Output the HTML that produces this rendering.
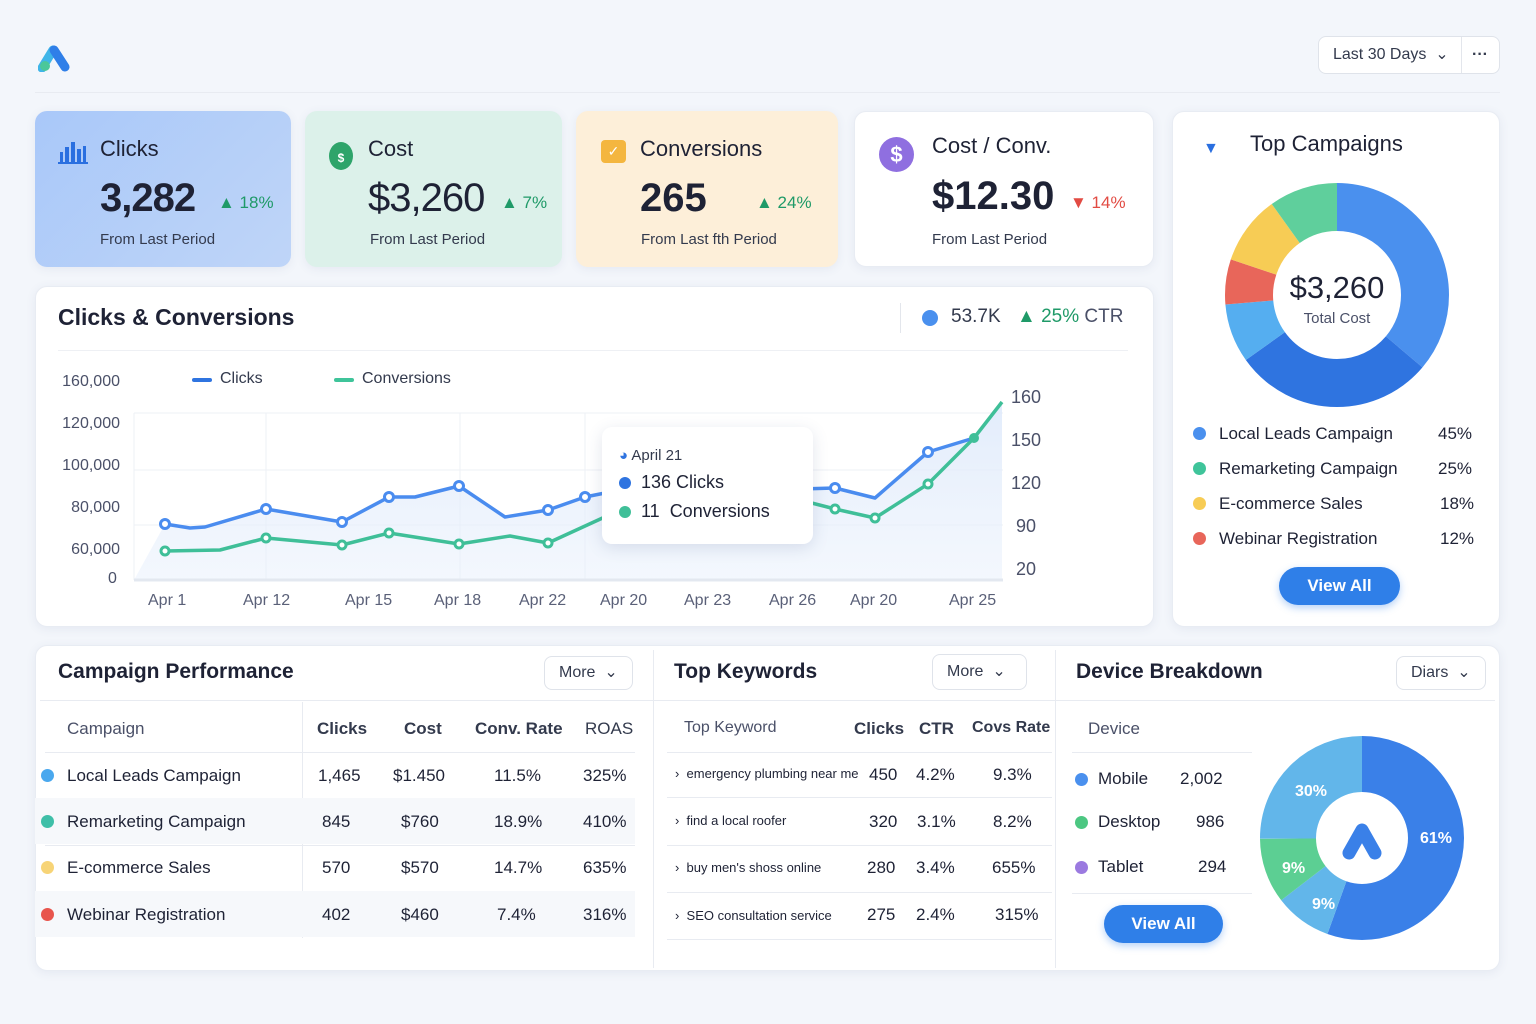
<!DOCTYPE html>
<html><head><meta charset="utf-8"><style>
*{margin:0;padding:0;box-sizing:border-box}
body{width:1536px;height:1024px;background:#f3f6fb;font-family:"Liberation Sans",sans-serif;color:#1e2235;position:relative;overflow:hidden}
.a{position:absolute;white-space:nowrap}
.card{position:absolute;border-radius:12px;box-shadow:0 2px 10px rgba(60,80,130,0.08)}
.w{background:#fff;border:1px solid #e8ecf3}
.up{color:#1f9a68}
.btn{position:absolute;border:1px solid #dfe3ea;border-radius:8px;background:#fff;font-size:16px;color:#333a4d;padding:0 14px;line-height:32px}
.blue{position:absolute;background:#2f7fe8;color:#fff;border-radius:20px;font-size:17px;font-weight:bold;text-align:center;line-height:38px;box-shadow:0 3px 8px rgba(47,127,232,.35)}
.hl{position:absolute;height:1px;background:#e8ebf1}
.dot{position:absolute;width:13px;height:13px;border-radius:50%}
.t17{font-size:17px}
</style></head><body>
<div class="hl" style="left:35px;top:92px;width:1465px"></div>
<svg class="a" style="left:38px;top:44px" width="34" height="28"><path d="M4 24 L15 6" stroke="#3fb5e8" stroke-width="9" stroke-linecap="round"/><path d="M16 6 L27 23" stroke="#2f7fe8" stroke-width="9" stroke-linecap="round"/><circle cx="7" cy="22" r="5" fill="#4bc79a"/></svg>
<div class="btn" style="left:1318px;top:36px;width:182px;height:38px;line-height:36px">Last 30 Days &nbsp;⌄ <span style="position:absolute;left:142px;top:0;border-left:1px solid #e3e6ec;padding-left:10px;font-weight:bold">···</span></div>

<div class="card" style="left:35px;top:111px;width:256px;height:156px;background:linear-gradient(135deg,#a9c8f9,#bfd5f8)"></div>
<svg class="a" style="left:58px;top:142px" width="30" height="22"><rect x="2" y="10" width="3" height="11" fill="#2a6fe0"/><rect x="7" y="5" width="4" height="16" fill="#2a6fe0"/><rect x="13" y="0" width="4" height="21" fill="#2a6fe0"/><rect x="19" y="7" width="4" height="14" fill="#2a6fe0"/><rect x="25" y="4" width="3" height="17" fill="#2a6fe0"/><rect x="0" y="20" width="30" height="2" fill="#2a6fe0"/></svg>
<div class="a" style="left:100px;top:136px;font-size:22px">Clicks</div>
<div class="a" style="left:100px;top:176px;font-size:40px;font-weight:bold;letter-spacing:-1px">3,282</div>
<div class="a up" style="left:218px;top:193px;font-size:17px">▲ 18%</div>
<div class="a" style="left:100px;top:231px;font-size:15px;color:#333a4d">From Last Period</div>

<div class="card" style="left:305px;top:111px;width:257px;height:156px;background:#dcf1ea"></div>
<div class="a" style="left:329px;top:142px;width:24px;height:28px;border-radius:50%;background:#2ea46a;color:#fff;font-size:12px;text-align:center;line-height:32px;font-weight:bold">$</div>
<div class="a" style="left:368px;top:136px;font-size:22px">Cost</div>
<div class="a" style="left:368px;top:176px;font-size:40px;letter-spacing:-1px">$3,260</div>
<div class="a up" style="left:501px;top:193px;font-size:17px">▲ 7%</div>
<div class="a" style="left:370px;top:231px;font-size:15px;color:#333a4d">From Last Period</div>

<div class="card" style="left:576px;top:111px;width:262px;height:156px;background:#fdefd9"></div>
<div class="a" style="left:601px;top:140px;width:25px;height:23px;border-radius:4px;background:#f4b63f;color:#fff;font-size:14px;text-align:center;line-height:23px">✓</div>
<div class="a" style="left:640px;top:136px;font-size:22px">Conversions</div>
<div class="a" style="left:640px;top:176px;font-size:40px;font-weight:bold">265</div>
<div class="a up" style="left:756px;top:193px;font-size:17px">▲ 24%</div>
<div class="a" style="left:641px;top:231px;font-size:15px;color:#333a4d">From Last fth Period</div>

<div class="card w" style="left:854px;top:111px;width:300px;height:156px"></div>
<div class="a" style="left:879px;top:137px;width:35px;height:35px;border-radius:50%;background:#8f6fe0;color:#fff;font-size:22px;text-align:center;line-height:35px;font-weight:bold">$</div>
<div class="a" style="left:932px;top:133px;font-size:22px">Cost / Conv.</div>
<div class="a" style="left:932px;top:174px;font-size:40px;font-weight:bold">$12.30</div>
<div class="a" style="left:1070px;top:193px;font-size:17px;color:#e24b43">▼ 14%</div>
<div class="a" style="left:932px;top:231px;font-size:15px;color:#333a4d">From Last Period</div>

<div class="card w" style="left:1172px;top:111px;width:328px;height:516px"></div>
<div class="a" style="left:1203px;top:140px;font-size:16px;color:#2a6fe0">▼</div>
<div class="a" style="left:1250px;top:131px;font-size:22px">Top Campaigns</div>
<svg class="a" style="left:1217px;top:175px" width="240" height="240" viewBox="0 0 240 240">
<g transform="rotate(-90 120 120)" fill="none" stroke-width="48">
<circle cx="120" cy="120" r="88" stroke="#4a90ee" stroke-dasharray="200 553"/>
<circle cx="120" cy="120" r="88" stroke="#2f74e0" stroke-dasharray="160 553" stroke-dashoffset="-200"/>
<circle cx="120" cy="120" r="88" stroke="#55aef0" stroke-dasharray="47 553" stroke-dashoffset="-360"/>
<circle cx="120" cy="120" r="88" stroke="#e8665a" stroke-dasharray="36 553" stroke-dashoffset="-407"/>
<circle cx="120" cy="120" r="88" stroke="#f7cc55" stroke-dasharray="55 553" stroke-dashoffset="-443"/>
<circle cx="120" cy="120" r="88" stroke="#5fcf9c" stroke-dasharray="55 553" stroke-dashoffset="-498"/>
</g></svg>
<div class="a" style="left:1277px;top:270px;width:120px;text-align:center;font-size:31px">$3,260</div>
<div class="a" style="left:1277px;top:310px;width:120px;text-align:center;font-size:15px;color:#4a5068">Total Cost</div>
<div class="dot" style="left:1193px;top:427px;background:#4a90ee"></div><div class="a t17" style="left:1219px;top:424px">Local Leads Campaign</div><div class="a t17" style="left:1438px;top:424px">45%</div>
<div class="dot" style="left:1193px;top:462px;background:#3fc49a"></div><div class="a t17" style="left:1219px;top:459px">Remarketing Campaign</div><div class="a t17" style="left:1438px;top:459px">25%</div>
<div class="dot" style="left:1193px;top:497px;background:#f7cc55"></div><div class="a t17" style="left:1219px;top:494px">E-commerce Sales</div><div class="a t17" style="left:1440px;top:494px">18%</div>
<div class="dot" style="left:1193px;top:532px;background:#e8665a"></div><div class="a t17" style="left:1219px;top:529px">Webinar Registration</div><div class="a t17" style="left:1440px;top:529px">12%</div>
<div class="blue" style="left:1279px;top:567px;width:121px">View All</div>

<div class="card w" style="left:35px;top:286px;width:1119px;height:341px"></div>
<div class="a" style="left:58px;top:304px;font-size:23px;font-weight:bold">Clicks &amp; Conversions</div>
<div class="a" style="left:900px;top:303px;width:1px;height:30px;background:#e3e6ec"></div>
<div class="dot" style="left:922px;top:310px;width:16px;height:16px;background:#4a90ee"></div>
<div class="a" style="left:951px;top:306px;font-size:19px;color:#333a4d">53.7K</div>
<div class="a" style="left:1017px;top:306px;font-size:19px"><span class="up">▲ 25%</span> <span style="color:#4a5068">CTR</span></div>
<div class="hl" style="left:58px;top:350px;width:1070px;background:#eef0f4"></div>
<div class="a" style="left:192px;top:378px;width:20px;height:4px;background:#2f74e0;border-radius:2px"></div><div class="a" style="left:220px;top:370px;font-size:16px;color:#333a4d">Clicks</div>
<div class="a" style="left:334px;top:378px;width:20px;height:4px;background:#3fc49a;border-radius:2px"></div><div class="a" style="left:362px;top:370px;font-size:16px;color:#333a4d">Conversions</div>
<div class="a" style="left:40px;top:371px;width:80px;text-align:right;font-size:16px;color:#4a5068;line-height:21px">160,000<br><br>120,000<br><br>100,000<br><br>80,000<br><br>60,000</div>
<div class="a" style="left:108px;top:570px;font-size:16px;color:#4a5068">0</div>
<div class="a" style="left:1011px;top:376px;font-size:18px;color:#4a5068;line-height:43px">160<br>150<br>120<br>&nbsp;90<br>&nbsp;20</div>
<svg class="a" style="left:0;top:0" width="1536" height="1024">
<defs><linearGradient id="g" x1="0" y1="0" x2="0" y2="1"><stop offset="0" stop-color="#dfeafb" stop-opacity="0.9"/><stop offset="1" stop-color="#e8f0fc" stop-opacity="0.5"/></linearGradient></defs>
<g stroke="#edf0f5" stroke-width="1"><line x1="134" y1="413" x2="1003" y2="413"/><line x1="134" y1="470" x2="1003" y2="470"/><line x1="134" y1="525" x2="1003" y2="525"/><line x1="266" y1="413" x2="266" y2="580"/><line x1="460" y1="413" x2="460" y2="580"/><line x1="585" y1="413" x2="585" y2="580"/><line x1="134" y1="413" x2="134" y2="580"/></g>
<path d="M165 524 L190 528 L205 527 L266 509 L342 522 L389 497 L415 497 L459 486 L505 517 L548 510 L585 497 L620 490 L835 488 L875 498 L928 452 L974 438 L1002 402 L1002 580 L134 580 Z" fill="url(#g)"/>
<line x1="134" y1="580" x2="1003" y2="580" stroke="#e3e8f0" stroke-width="3"/>
<polyline fill="none" stroke="#3fbf98" stroke-width="3.5" stroke-linejoin="round" points="165,551 220,550 266,538 342,545 389,533 459,544 510,536 548,543 620,510 800,500 835,509 875,518 928,484 974,438 1002,402"/>
<polyline fill="none" stroke="#4a8cef" stroke-width="3.5" stroke-linejoin="round" points="165,524 190,528 205,527 266,509 342,522 389,497 415,497 459,486 505,517 548,510 585,497 620,490 800,489 835,488 875,498 928,452 974,438"/>
<g fill="#fff" stroke="#4a8cef" stroke-width="3"><circle cx="165" cy="524" r="4.5"/><circle cx="266" cy="509" r="4.5"/><circle cx="342" cy="522" r="4.5"/><circle cx="389" cy="497" r="4.5"/><circle cx="459" cy="486" r="4.5"/><circle cx="548" cy="510" r="4.5"/><circle cx="585" cy="497" r="4.5"/><circle cx="835" cy="488" r="4.5"/><circle cx="928" cy="452" r="4.5"/></g>
<g fill="#fff" stroke="#3fbf98" stroke-width="3"><circle cx="165" cy="551" r="4"/><circle cx="266" cy="538" r="4"/><circle cx="342" cy="545" r="4"/><circle cx="389" cy="533" r="4"/><circle cx="459" cy="544" r="4"/><circle cx="548" cy="543" r="4"/><circle cx="835" cy="509" r="4"/><circle cx="875" cy="518" r="4"/><circle cx="928" cy="484" r="4"/></g>
<circle cx="974" cy="438" r="5" fill="#3fbf98"/>
</svg>
<div class="a" style="left:602px;top:427px;width:211px;height:117px;background:#fff;border-radius:10px;box-shadow:0 4px 16px rgba(60,80,130,.15)"></div>
<div class="a" style="left:619px;top:447px;font-size:15px;color:#333a4d"><span style="color:#2f74e0">◕</span> April 21</div>
<div class="dot" style="left:619px;top:477px;width:12px;height:12px;background:#2f74e0"></div><div class="a" style="left:641px;top:472px;font-size:18px">136 Clicks</div>
<div class="dot" style="left:619px;top:506px;width:12px;height:12px;background:#3fbf98"></div><div class="a" style="left:641px;top:501px;font-size:18px">11 &nbsp;Conversions</div>
<div class="a" style="top:592px;left:0;width:1100px;font-size:16px;color:#5a6078">
<span class="a" style="left:148px">Apr 1</span><span class="a" style="left:243px">Apr 12</span><span class="a" style="left:345px">Apr 15</span><span class="a" style="left:434px">Apr 18</span><span class="a" style="left:519px">Apr 22</span><span class="a" style="left:600px">Apr 20</span><span class="a" style="left:684px">Apr 23</span><span class="a" style="left:769px">Apr 26</span><span class="a" style="left:850px">Apr 20</span><span class="a" style="left:949px">Apr 25</span></div>

<div class="card w" style="left:35px;top:645px;width:1465px;height:326px"></div>
<div class="a" style="left:653px;top:650px;width:1px;height:318px;background:#e8ebf1"></div>
<div class="a" style="left:1055px;top:650px;width:1px;height:318px;background:#e8ebf1"></div>
<div class="hl" style="left:40px;top:700px;width:1455px"></div>
<div class="a" style="left:58px;top:660px;font-size:21px;font-weight:bold">Campaign Performance</div>
<div class="btn" style="left:544px;top:656px;width:89px">More &nbsp;⌄</div>
<div class="a" style="left:674px;top:660px;font-size:21px;font-weight:bold">Top Keywords</div>
<div class="btn" style="left:932px;top:654px;width:95px;height:36px;line-height:34px">More &nbsp;⌄</div>
<div class="a" style="left:1076px;top:660px;font-size:21px;font-weight:bold">Device Breakdown</div>
<div class="btn" style="left:1396px;top:656px;width:90px">Diars &nbsp;⌄</div>

<div class="a" style="left:302px;top:702px;width:1px;height:236px;background:#e8ebf1"></div>
<div class="a" style="left:35px;top:798px;width:600px;height:46px;background:#f6f8fb"></div>
<div class="a" style="left:35px;top:891px;width:600px;height:46px;background:#f6f8fb"></div>
<div class="hl" style="left:45px;top:752px;width:590px"></div><div class="hl" style="left:45px;top:845px;width:590px"></div>
<div class="a" style="left:67px;top:719px;font-size:17px;color:#4a5068">Campaign</div>
<div class="a" style="left:317px;top:719px;font-size:17px;font-weight:bold;color:#333a4d">Clicks</div>
<div class="a" style="left:404px;top:719px;font-size:17px;font-weight:bold;color:#333a4d">Cost</div>
<div class="a" style="left:475px;top:719px;font-size:17px;font-weight:bold;color:#333a4d">Conv. Rate</div>
<div class="a" style="left:585px;top:719px;font-size:17px;color:#333a4d">ROAS</div>
<div class="dot" style="left:41px;top:769px;background:#4aa8ee"></div><div class="a t17" style="left:67px;top:766px">Local Leads Campaign</div><div class="a t17" style="left:318px;top:766px">1,465</div><div class="a t17" style="left:393px;top:766px">$1.450</div><div class="a t17" style="left:494px;top:766px">11.5%</div><div class="a t17" style="left:583px;top:766px">325%</div>
<div class="dot" style="left:41px;top:815px;background:#3fbfa8"></div><div class="a t17" style="left:67px;top:812px">Remarketing Campaign</div><div class="a t17" style="left:322px;top:812px">845</div><div class="a t17" style="left:401px;top:812px">$760</div><div class="a t17" style="left:494px;top:812px">18.9%</div><div class="a t17" style="left:583px;top:812px">410%</div>
<div class="dot" style="left:41px;top:861px;background:#f7d477"></div><div class="a t17" style="left:67px;top:858px">E-commerce Sales</div><div class="a t17" style="left:322px;top:858px">570</div><div class="a t17" style="left:401px;top:858px">$570</div><div class="a t17" style="left:494px;top:858px">14.7%</div><div class="a t17" style="left:583px;top:858px">635%</div>
<div class="dot" style="left:41px;top:908px;background:#e8554d"></div><div class="a t17" style="left:67px;top:905px">Webinar Registration</div><div class="a t17" style="left:322px;top:905px">402</div><div class="a t17" style="left:401px;top:905px">$460</div><div class="a t17" style="left:497px;top:905px">7.4%</div><div class="a t17" style="left:583px;top:905px">316%</div>

<div class="hl" style="left:667px;top:752px;width:385px"></div><div class="hl" style="left:667px;top:797px;width:385px"></div><div class="hl" style="left:667px;top:845px;width:385px"></div><div class="hl" style="left:667px;top:892px;width:385px"></div><div class="hl" style="left:667px;top:939px;width:385px"></div>
<div class="a" style="left:684px;top:719px;font-size:16px;color:#4a5068">Top Keyword</div>
<div class="a" style="left:854px;top:719px;font-size:17px;font-weight:bold;color:#333a4d">Clicks</div>
<div class="a" style="left:919px;top:719px;font-size:17px;font-weight:bold;color:#333a4d">CTR</div>
<div class="a" style="left:972px;top:719px;font-size:16px;font-weight:bold;color:#333a4d">Covs Rate</div>
<div class="a" style="left:675px;top:766px;font-size:13px">›&nbsp; emergency plumbing near me</div><div class="a t17" style="left:869px;top:765px">450</div><div class="a t17" style="left:916px;top:765px">4.2%</div><div class="a t17" style="left:993px;top:765px">9.3%</div>
<div class="a" style="left:675px;top:813px;font-size:13px">›&nbsp; find a local roofer</div><div class="a t17" style="left:869px;top:812px">320</div><div class="a t17" style="left:917px;top:812px">3.1%</div><div class="a t17" style="left:993px;top:812px">8.2%</div>
<div class="a" style="left:675px;top:860px;font-size:13px">›&nbsp; buy men's shoss online</div><div class="a t17" style="left:867px;top:858px">280</div><div class="a t17" style="left:916px;top:858px">3.4%</div><div class="a t17" style="left:992px;top:858px">655%</div>
<div class="a" style="left:675px;top:908px;font-size:13px">›&nbsp; SEO consultation service</div><div class="a t17" style="left:867px;top:905px">275</div><div class="a t17" style="left:916px;top:905px">2.4%</div><div class="a t17" style="left:995px;top:905px">315%</div>

<div class="a" style="left:1088px;top:719px;font-size:17px;color:#4a5068">Device</div>
<div class="hl" style="left:1072px;top:752px;width:180px"></div><div class="hl" style="left:1072px;top:893px;width:180px"></div>
<div class="dot" style="left:1075px;top:773px;background:#4a90ee"></div><div class="a t17" style="left:1098px;top:769px">Mobile</div><div class="a t17" style="left:1180px;top:769px">2,002</div>
<div class="dot" style="left:1075px;top:816px;background:#4cc782"></div><div class="a t17" style="left:1098px;top:812px">Desktop</div><div class="a t17" style="left:1196px;top:812px">986</div>
<div class="dot" style="left:1075px;top:861px;background:#9b7ae0"></div><div class="a t17" style="left:1098px;top:857px">Tablet</div><div class="a t17" style="left:1198px;top:857px">294</div>
<div class="blue" style="left:1104px;top:905px;width:119px">View All</div>
<svg class="a" style="left:1257px;top:733px" width="210" height="210" viewBox="0 0 210 210">
<g transform="rotate(-90 105 105)" fill="none" stroke-width="56">
<circle cx="105" cy="105" r="74" stroke="#3a80e8" stroke-dasharray="258 465"/>
<circle cx="105" cy="105" r="74" stroke="#62b6ea" stroke-dasharray="42 465" stroke-dashoffset="-258"/>
<circle cx="105" cy="105" r="74" stroke="#5ccf93" stroke-dasharray="48 465" stroke-dashoffset="-300"/>
<circle cx="105" cy="105" r="74" stroke="#62b6ea" stroke-dasharray="117 465" stroke-dashoffset="-348"/>
</g>
<path d="M92 120 L105 97 M105 97 L118 120" stroke="#3a80e8" stroke-width="13" stroke-linecap="round"/>
<text x="38" y="63" fill="#fff" font-size="16" font-weight="bold" font-family="Liberation Sans">30%</text>
<text x="163" y="110" fill="#fff" font-size="16" font-weight="bold" font-family="Liberation Sans">61%</text>
<text x="25" y="140" fill="#fff" font-size="16" font-weight="bold" font-family="Liberation Sans">9%</text>
<text x="55" y="176" fill="#fff" font-size="16" font-weight="bold" font-family="Liberation Sans">9%</text>
</svg>
</body></html>
